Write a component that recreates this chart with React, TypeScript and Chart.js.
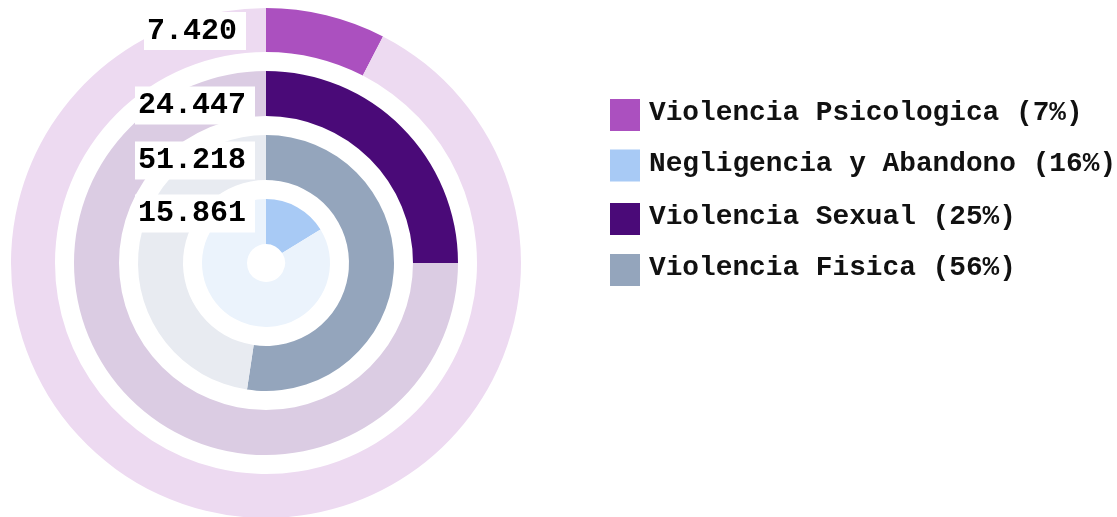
import React, { useEffect, useRef } from "react";
import { Chart, registerables } from "chart.js";

Chart.register(...registerables);

// Rings, outermost to innermost
const ringCategories = ["Violencia Psicologica", "Violencia Sexual", "Violencia Fisica", "Negligencia y Abandono"];
const ringValues = [7420, 24447, 51218, 15861];
const ringValueLabels = ["7.420", "24.447", "51.218", "15.861"];
const ringColors = ["#AB50BF", "#4A0A78", "#94A5BC", "#A8CAF5"];
const trackColors = ["#EDDAF1", "#DBCCE3", "#E8EBF1", "#EBF3FC"];
// full-circle value of each ring (read from the arcs)
const ringMax = 97800;

// Legend (its own order)
const legendLabels = ["Violencia Psicologica", "Negligencia y Abandono", "Violencia Sexual", "Violencia Fisica"];
const legendPercents = [7, 16, 25, 56];
const legendColors = ["#AB50BF", "#A8CAF5", "#4A0A78", "#94A5BC"];

export default function App() {
  const ref = useRef<HTMLCanvasElement | null>(null);

  useEffect(() => {
    if (!ref.current) return;
    const ringWeights = [44, 45, 45, 45];
    const gapWeight = 19;
    const datasets: any[] = [];
    const ringIdx: number[] = [];
    ringValues.forEach((v, i) => {
      ringIdx.push(datasets.length);
      datasets.push({
        label: ringCategories[i],
        data: [v, ringMax - v],
        backgroundColor: [ringColors[i], trackColors[i]],
        borderWidth: 0,
        weight: ringWeights[i],
      });
      if (i < ringValues.length - 1) {
        datasets.push({
          label: "gap" + i,
          data: [1],
          backgroundColor: ["rgba(0,0,0,0)"],
          borderWidth: 0,
          weight: gapWeight,
        });
      }
    });

    const labelNudge = [0, 11, 2, -9];

    const overlay = {
      id: "overlay",
      afterDatasetsDraw(chart: any) {
        const ctx = chart.ctx as CanvasRenderingContext2D;
        ctx.save();
        ringIdx.forEach((dsIdx, i) => {
          const arc = chart.getDatasetMeta(dsIdx).data[0];
          const { x, y, innerRadius, outerRadius } = arc.getProps(["x", "y", "innerRadius", "outerRadius"], true);
          const ty = y - (innerRadius + outerRadius) / 2 + labelNudge[i];
          const tx = x - 74;
          ctx.font = 'bold 30px "Liberation Mono", monospace';
          const w = ctx.measureText(ringValueLabels[i]).width;
          ctx.fillStyle = "#ffffff";
          ctx.fillRect(tx - w / 2 - 3, ty - 18, w + 12, 38);
          ctx.fillStyle = "#000000";
          ctx.textAlign = "center";
          ctx.textBaseline = "middle";
          ctx.fillText(ringValueLabels[i], tx, ty + 1);
        });

        const area = chart.chartArea;
        const bx = area.right + 89;
        const by0 = area.top + 106;
        const steps = [0, 50.5, 104, 155];
        ctx.font = 'bold 27.8px "Liberation Mono", monospace';
        ctx.textAlign = "left";
        ctx.textBaseline = "middle";
        legendLabels.forEach((lab, i) => {
          const cy = by0 + steps[i];
          ctx.fillStyle = legendColors[i];
          ctx.fillRect(bx, cy - 16, 30, 32);
          ctx.fillStyle = "#111111";
          ctx.fillText(`${lab} (${legendPercents[i]}%)`, bx + 39, cy - 2);
        });
        ctx.restore();
      },
    };

    const chart = new Chart(ref.current, {
      type: "doughnut",
      data: { labels: ["value", "rest"], datasets },
      options: {
        responsive: false,
        maintainAspectRatio: false,
        animation: false,
        radius: 255,
        cutout: `${(19 / 255) * 100}%`,
        layout: { padding: { left: 11, right: 596, top: 9, bottom: 0 } },
        plugins: {
          legend: { display: false },
          tooltip: { enabled: false },
        },
        elements: { arc: { borderWidth: 0, offset: 0, hoverOffset: 0 } as any },
        datasets: { doughnut: { clip: false } as any },
      } as any,
      plugins: [overlay],
    });
    return () => chart.destroy();
  }, []);

  return (
    <div style={{ position: "absolute", left: 0, top: 0, width: 1117, height: 517, overflow: "hidden", background: "#fff" }}>
      <canvas ref={ref} width={1117} height={517} style={{ display: "block" }} />
    </div>
  );
}
